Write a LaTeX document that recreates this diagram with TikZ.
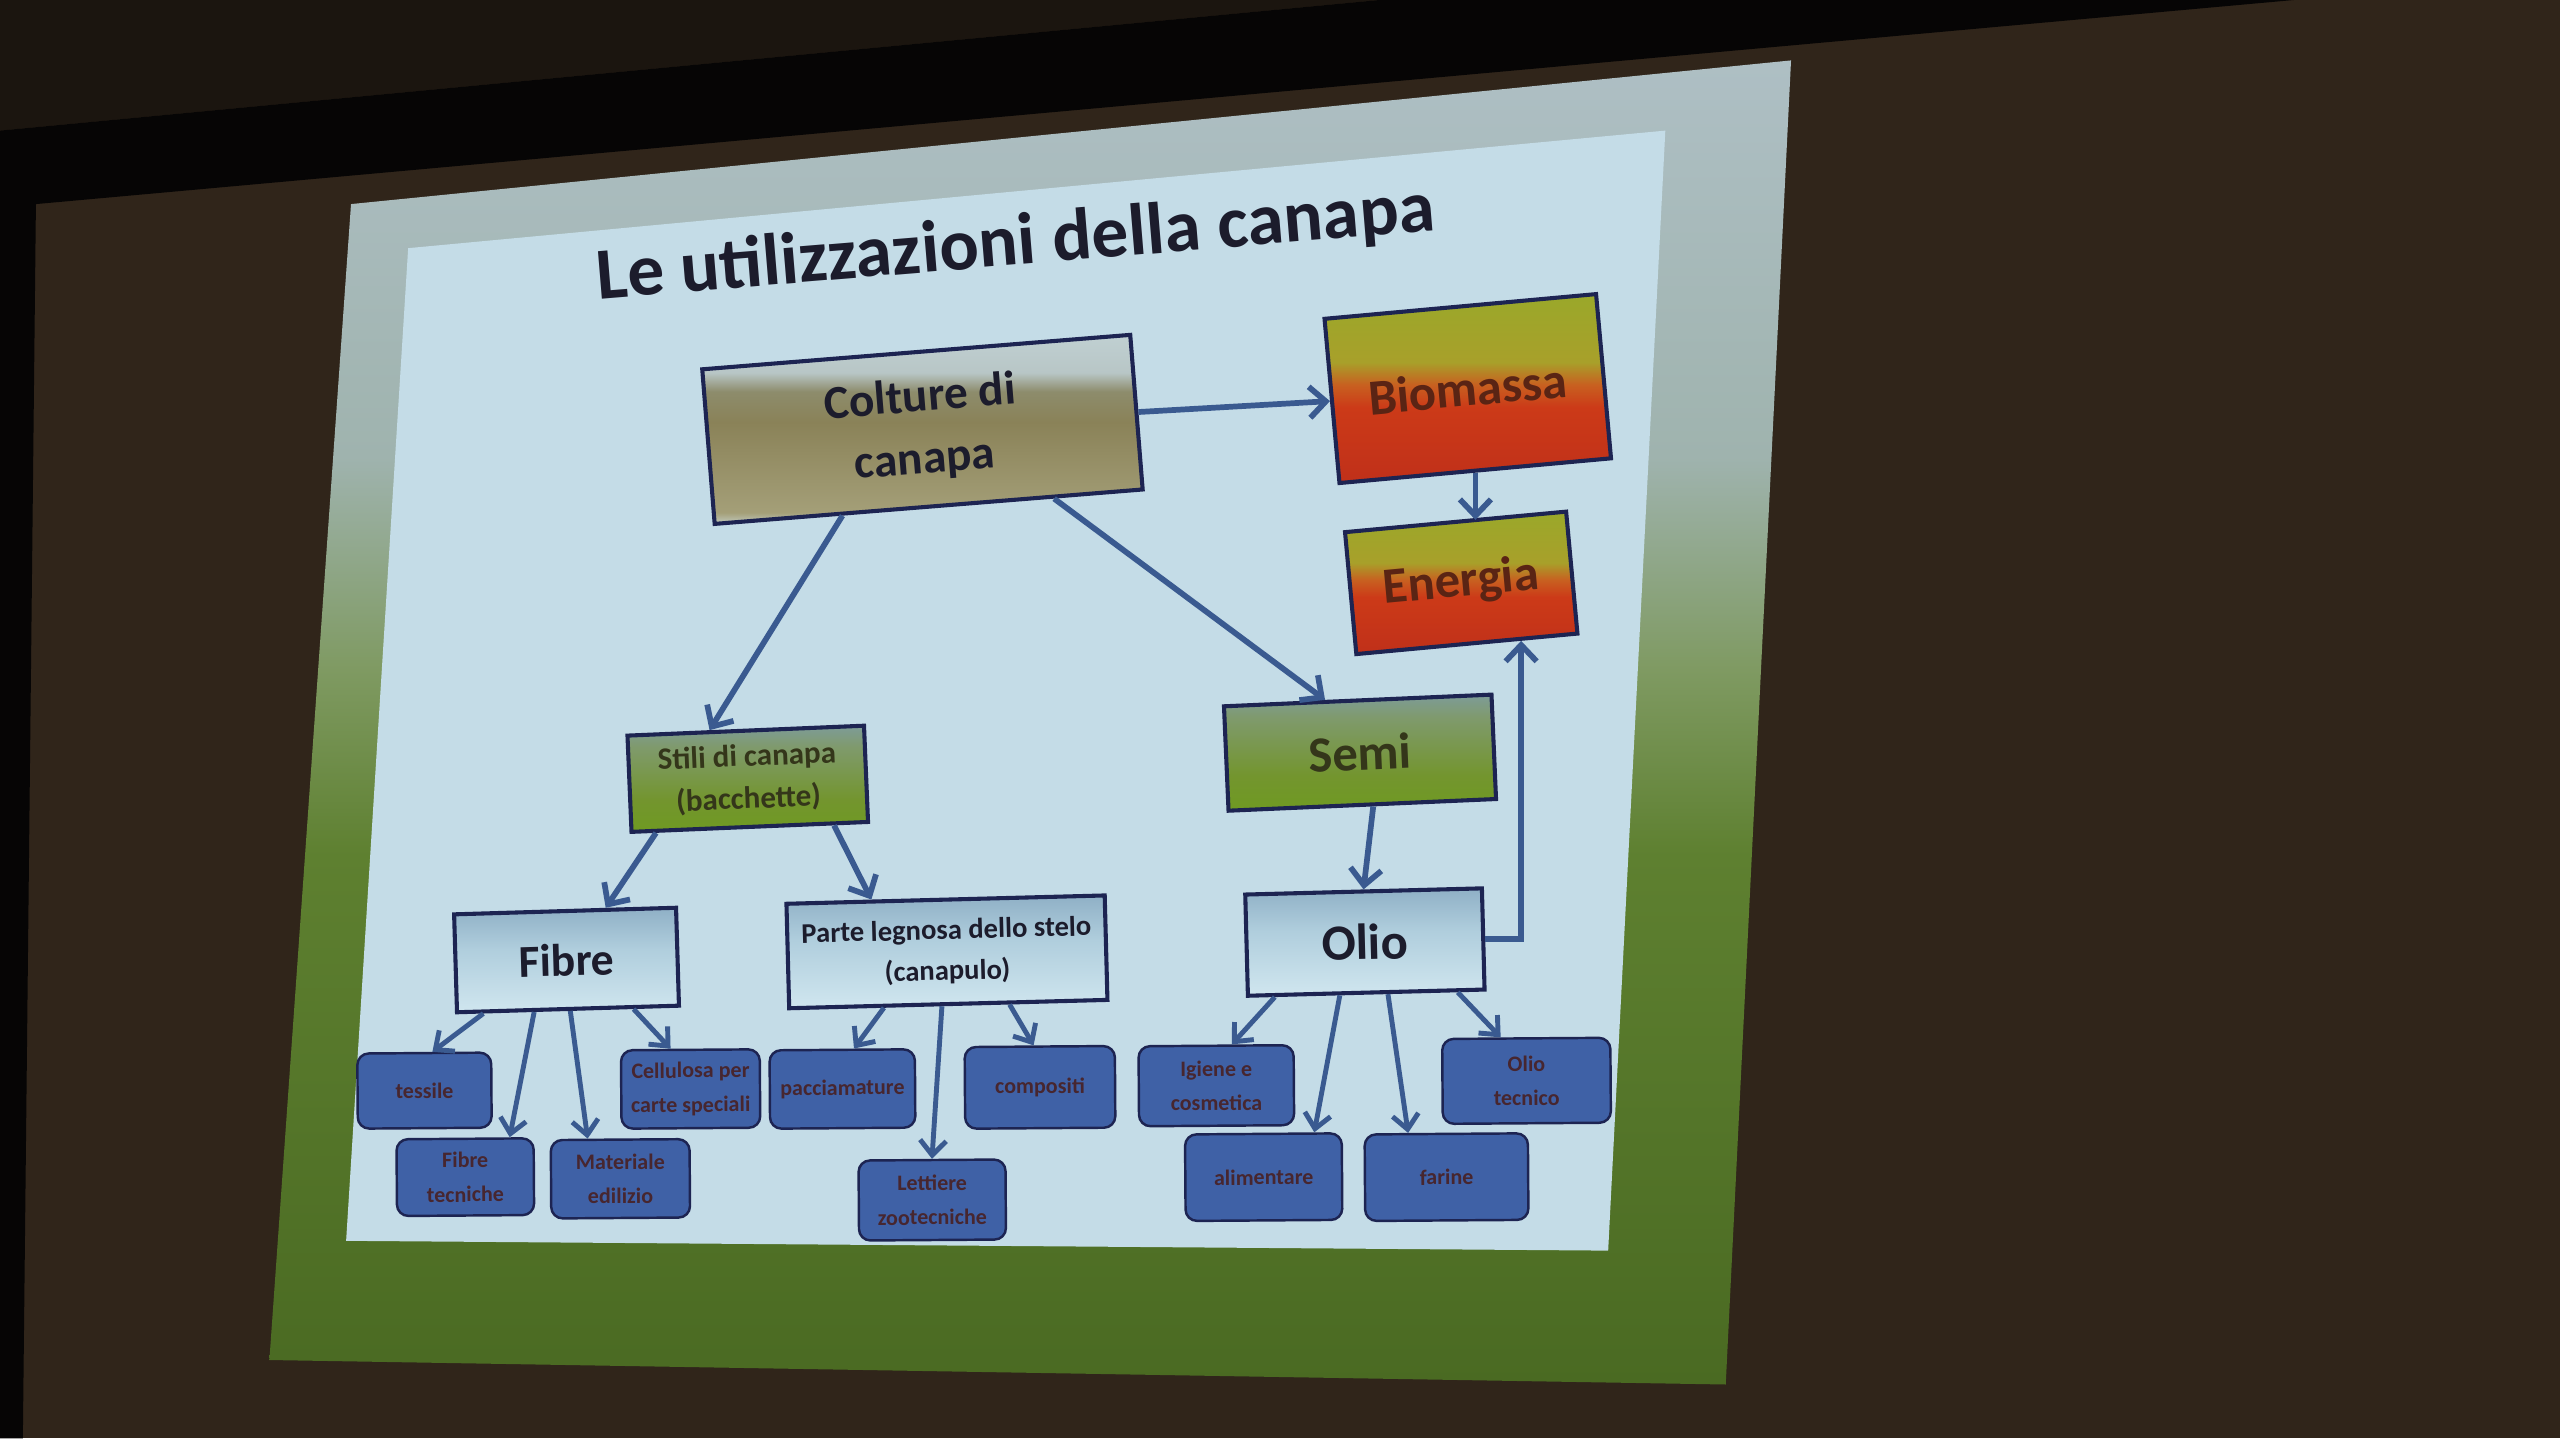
\documentclass[tikz,border=0pt]{standalone}
\usepackage{fontspec}
\setmainfont{Carlito}
\usetikzlibrary{arrows.meta,calc}
\definecolor{wall}{HTML}{30251A}
\definecolor{darktop}{HTML}{1B150F}
\definecolor{blackband}{HTML}{060505}
\definecolor{content}{HTML}{C4DCE7}
\definecolor{navy}{HTML}{1D2452}
\definecolor{arrowblue}{HTML}{3A5A90}
\definecolor{leafblue}{HTML}{3F61A6}
\definecolor{titlecol}{HTML}{1C1C2C}
\definecolor{leaftext}{HTML}{47262F}
\definecolor{firetext}{HTML}{5A2414}
\definecolor{greentext}{HTML}{34361A}
% projection area
\definecolor{pjA}{HTML}{4A6A22}
\definecolor{pjB}{HTML}{5E8030}
\definecolor{pjC}{HTML}{7F9A62}
\definecolor{pjD}{HTML}{9FB3AE}
\definecolor{pjE}{HTML}{AEBFC4}
% colture
\definecolor{coA}{HTML}{C2CBC0}
\definecolor{coB}{HTML}{A49F78}
\definecolor{coC}{HTML}{8A8258}
\definecolor{coD}{HTML}{8D8C6C}
\definecolor{coE}{HTML}{B8C6C6}
\definecolor{coF}{HTML}{C0D0D2}
% fire
\definecolor{fiA}{HTML}{C03019}
\definecolor{fiB}{HTML}{CC3A18}
\definecolor{fiC}{HTML}{C86020}
\definecolor{fiD}{HTML}{A8A02A}
\definecolor{fiE}{HTML}{9AA82A}
% green
\definecolor{grA}{HTML}{6F9A22}
\definecolor{grB}{HTML}{73952E}
\definecolor{grC}{HTML}{7F9A6C}
\definecolor{grD}{HTML}{7E9C98}
% blue
\definecolor{blA}{HTML}{D0E6EF}
\definecolor{blB}{HTML}{B0CEDD}
\definecolor{blC}{HTML}{8FB0C6}
\pgfdeclareverticalshading{projsh}{100bp}{color(0bp)=(pjA); color(25bp)=(pjA); color(45bp)=(pjB); color(52bp)=(pjC); color(60bp)=(pjD); color(75bp)=(pjE); color(100bp)=(pjE)}
\pgfdeclareverticalshading{colturesh}{100bp}{color(0bp)=(coA); color(25bp)=(coA); color(28bp)=(coB); color(52bp)=(coC); color(60bp)=(coD); color(65bp)=(coE); color(75bp)=(coF); color(100bp)=(coF)}
\pgfdeclareverticalshading{firesh}{100bp}{color(0bp)=(fiA); color(25bp)=(fiA); color(45bp)=(fiB); color(51bp)=(fiC); color(57bp)=(fiD); color(75bp)=(fiE); color(100bp)=(fiE)}
\pgfdeclareverticalshading{greensh}{100bp}{color(0bp)=(grA); color(25bp)=(grA); color(40bp)=(grB); color(65bp)=(grC); color(75bp)=(grD); color(100bp)=(grD)}
\pgfdeclareverticalshading{bluesh}{100bp}{color(0bp)=(blA); color(25bp)=(blA); color(55bp)=(blB); color(75bp)=(blC); color(100bp)=(blC)}
\begin{document}
\begin{tikzpicture}[x=1pt,y=-1pt,
  box/.style={draw=navy, line width=2.5pt, inner sep=0pt, align=center},
  colturebox/.style={box, shading=colturesh, text=titlecol},
  firebox/.style={box, shading=firesh, text=firetext, font=\bfseries\fontsize{31pt}{36pt}\selectfont},
  greenbox/.style={box, shading=greensh, text=greentext},
  bluebox/.style={box, shading=bluesh, text=titlecol},
  leaf/.style={draw=navy, line width=1.5pt, rounded corners=7pt, fill=leafblue, text=leaftext, inner sep=0pt, align=center, font=\bfseries\fontsize{13.5pt}{21pt}\selectfont},
  arr/.style={draw=arrowblue, line width=3.5pt, -{Straight Barb[length=10pt,width=19pt]}},
  sarr/.style={draw=arrowblue, line width=3pt, -{Straight Barb[length=9pt,width=16pt]}}
]
\useasboundingbox (0,0) rectangle (1568,881);
% room and screen
\fill[wall] (0,0) rectangle (1568,881);
\fill[darktop] (0,0) -- (845,0) -- (0,80) -- cycle;
\fill[blackband] (0,80) -- (845,0) -- (1405,0) -- (22,125) -- (14,881) -- (0,881) -- cycle;
\shade[shading=projsh] (215,125) -- (1097,37) -- (1057,848) -- (165,833) -- cycle;
\fill[content] (250,152) -- (1020,80) -- (985,766) -- (212,760) -- cycle;
% title
\node[rotate=4.7, text=titlecol, font=\bfseries\fontsize{45pt}{54pt}\selectfont] (title) at (622,150) {Le utilizzazioni della canapa};
% main boxes
\node[colturebox, rotate=4.6, minimum width=263pt, minimum height=95pt, font=\bfseries\fontsize{29pt}{38pt}\selectfont] (colture) at (565,263) {Colture di\\canapa};
\node[firebox, rotate=5.2, minimum width=167pt, minimum height=101pt] (biomassa) at (899,238) {Biomassa};
\node[firebox, rotate=5.3, minimum width=136pt, minimum height=75pt] (energia) at (895,357) {Energia};
\node[greenbox, rotate=2.5, minimum width=164pt, minimum height=64pt, font=\bfseries\fontsize{31pt}{36pt}\selectfont] (semi) at (833,461) {Semi};
\node[greenbox, rotate=2.4, minimum width=145pt, minimum height=59pt, font=\bfseries\fontsize{19pt}{26pt}\selectfont] (stili) at (458,477) {Stili di canapa\\(bacchette)};
\node[bluebox, rotate=1.7, minimum width=136pt, minimum height=60pt, font=\bfseries\fontsize{28pt}{34pt}\selectfont] (fibre) at (347,588) {Fibre};
\node[bluebox, rotate=1.5, minimum width=195pt, minimum height=64pt, font=\bfseries\fontsize{17.5pt}{25pt}\selectfont] (parte) at (580,583) {Parte legnosa dello stelo\\(canapulo)};
\node[bluebox, rotate=1.5, minimum width=145pt, minimum height=62pt, font=\bfseries\fontsize{31pt}{36pt}\selectfont] (olio) at (836,577) {Olio};
% leaves
\node[leaf, rotate=0.4, minimum width=82pt, minimum height=46pt] (tessile) at (260,668) {tessile};
\node[leaf, rotate=0.4, minimum width=84pt, minimum height=47pt] (fibtec) at (285,721) {Fibre\\tecniche};
\node[leaf, rotate=0.4, minimum width=85pt, minimum height=48pt] (materiale) at (380,722) {Materiale\\edilizio};
\node[leaf, rotate=0.4, minimum width=85pt, minimum height=48pt] (cellulosa) at (423,667) {Cellulosa per\\carte speciali};
\node[leaf, rotate=0.4, minimum width=89pt, minimum height=48pt] (paccia) at (516,667) {pacciamature};
\node[leaf, rotate=0.4, minimum width=92pt, minimum height=50pt] (compositi) at (637,666) {compositi};
\node[leaf, rotate=0.4, minimum width=90pt, minimum height=49pt] (lettiere) at (571,735) {Lettiere\\zootecniche};
\node[leaf, rotate=0.4, minimum width=95pt, minimum height=49pt] (igiene) at (745,665) {Igiene e\\cosmetica};
\node[leaf, rotate=0.4, minimum width=96pt, minimum height=53pt] (alimentare) at (774,721) {alimentare};
\node[leaf, rotate=0.4, minimum width=100pt, minimum height=53pt] (farine) at (886,721) {farine};
\node[leaf, rotate=0.4, minimum width=103pt, minimum height=52pt] (oliotec) at (935,662) {Olio\\tecnico};
% connectors
\draw[arr] (colture.east) -- (biomassa.west);
\draw[arr] (biomassa.south) -- (biomassa.south |- energia.north);
\draw[arr] ($(colture.south west)!0.30!(colture.south east)$) -- ($(stili.north west)!0.35!(stili.north east)$);
\draw[arr] ($(colture.south west)!0.79!(colture.south east)$) -- ($(semi.north west)!0.38!(semi.north east)$);
\draw[arr] ($(stili.south west)!0.11!(stili.south east)$) -- ($(fibre.north west)!0.68!(fibre.north east)$);
\draw[arr] ($(stili.south west)!0.85!(stili.south east)$) -- ($(parte.north west)!0.27!(parte.north east)$);
\draw[arr] ($(semi.south west)!0.54!(semi.south east)$) -- ($(olio.north west)!0.50!(olio.north east)$);
\draw[arr] (olio.east) -| ($(energia.south west)!0.74!(energia.south east)$);
\draw[sarr] ($(fibre.south west)!0.125!(fibre.south east)$) -- ($(tessile.north west)!0.56!(tessile.north east)$);
\draw[sarr] ($(fibre.south west)!0.35!(fibre.south east)$) -- ($(fibtec.north west)!0.82!(fibtec.north east)$);
\draw[sarr] ($(fibre.south west)!0.51!(fibre.south east)$) -- ($(materiale.north west)!0.27!(materiale.north east)$);
\draw[sarr] ($(fibre.south west)!0.79!(fibre.south east)$) -- ($(cellulosa.north west)!0.36!(cellulosa.north east)$);
\draw[sarr] ($(parte.south west)!0.30!(parte.south east)$) -- ($(paccia.north west)!0.58!(paccia.north east)$);
\draw[sarr] ($(parte.south west)!0.48!(parte.south east)$) -- ($(lettiere.north west)!0.50!(lettiere.north east)$);
\draw[sarr] ($(parte.south west)!0.69!(parte.south east)$) -- ($(compositi.north west)!0.46!(compositi.north east)$);
\draw[sarr] ($(olio.south west)!0.12!(olio.south east)$) -- ($(igiene.north west)!0.60!(igiene.north east)$);
\draw[sarr] ($(olio.south west)!0.39!(olio.south east)$) -- ($(alimentare.north west)!0.82!(alimentare.north east)$);
\draw[sarr] ($(olio.south west)!0.59!(olio.south east)$) -- ($(farine.north west)!0.27!(farine.north east)$);
\draw[sarr] ($(olio.south west)!0.88!(olio.south east)$) -- ($(oliotec.north west)!0.35!(oliotec.north east)$);
\end{tikzpicture}
\end{document}
